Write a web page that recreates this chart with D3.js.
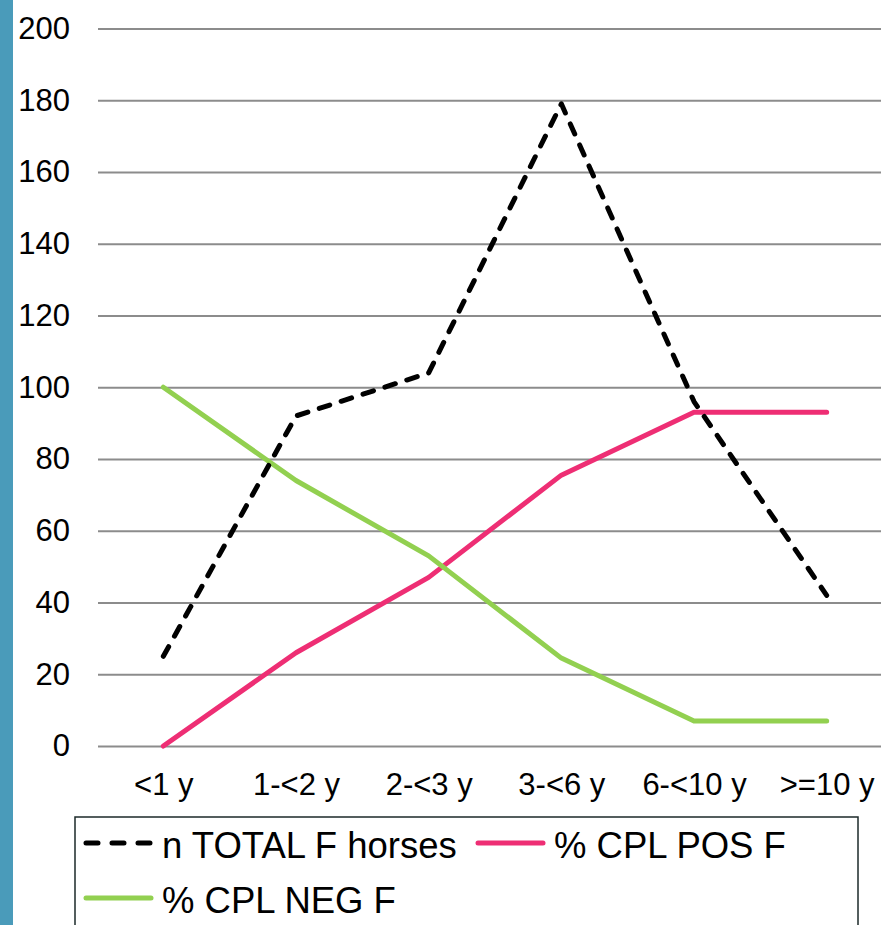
<!DOCTYPE html>
<html>
<head>
<meta charset="utf-8">
<script src="https://cdn.jsdelivr.net/npm/d3@7"></script>
<style>
  body { margin: 0; background: #fff; }
  text { font-family: "Liberation Sans", Arial, sans-serif; fill: #000; }
</style>
</head>
<body>
<svg width="881" height="925"></svg>
<script>
// chart values
var categories = ["<1 y", "1-<2 y", "2-<3 y", "3-<6 y", "6-<10 y", ">=10 y"];
var totalF = [25, 92, 104, 179, 96, 42];
var posF = [0, 26, 47, 75.5, 93, 93];
var negF = [100, 74, 53, 24.5, 7, 7];
var seriesNames = ["n TOTAL F horses", "% CPL POS F", "% CPL NEG F"];
var yTicks = [0, 20, 40, 60, 80, 100, 120, 140, 160, 180, 200];

var svg = d3.select("svg");

// blue strip on the left edge
svg.append("rect")
    .attr("x", 0).attr("y", 0)
    .attr("width", 13).attr("height", 925)
    .attr("fill", "#4a9bba");

var plotLeft = 97, plotRight = 893, plotTop = 28.5, plotBottom = 746;

var x = d3.scalePoint()
    .domain(categories)
    .range([plotLeft, plotRight])
    .padding(0.5);

var y = d3.scaleLinear()
    .domain([0, 200])
    .range([plotBottom, plotTop]);

// gridlines + y labels
var yAxis = svg.append("g")
    .attr("transform", "translate(" + (plotLeft + 1) + ",0)")
    .call(d3.axisLeft(y).tickValues(yTicks).tickSize(-(plotRight - plotLeft)).tickPadding(28));
yAxis.select(".domain").remove();
yAxis.selectAll(".tick line")
    .attr("stroke", "#8c8c8c")
    .attr("stroke-width", 2);
yAxis.selectAll(".tick text")
    .style("font-size", "31px")
    .attr("fill", "#000");

// x labels
var xAxis = svg.append("g")
    .attr("transform", "translate(0," + plotBottom + ")")
    .call(d3.axisBottom(x).tickSize(0).tickPadding(27));
xAxis.select(".domain").remove();
xAxis.selectAll(".tick text")
    .style("font-size", "31px")
    .attr("fill", "#000");

var line = d3.line()
    .x(function(d, i) { return x(categories[i]); })
    .y(function(d) { return y(d); });

var series = [
  {name: seriesNames[1], values: posF, color: "#ee2e74", dash: null},
  {name: seriesNames[2], values: negF, color: "#92d050", dash: null},
  {name: seriesNames[0], values: totalF, color: "#000", dash: "11,12"}
];

series.forEach(function(s) {
  svg.append("path")
      .datum(s.values)
      .attr("fill", "none")
      .attr("stroke", s.color)
      .attr("stroke-width", 5)
      .attr("stroke-linejoin", "round")
      .attr("stroke-linecap", "round")
      .attr("stroke-dasharray", s.dash)
      .attr("d", line);
});

// legend
svg.append("rect")
    .attr("x", 75).attr("y", 817)
    .attr("width", 783).attr("height", 140)
    .attr("fill", "#fff")
    .attr("stroke", "#1c2a2a")
    .attr("stroke-width", 1.5);

var legendItems = [
  {name: seriesNames[0], color: "#000", dash: "12,14", lx: 86, ly: 843},
  {name: seriesNames[1], color: "#ee2e74", dash: null, lx: 478, ly: 843},
  {name: seriesNames[2], color: "#92d050", dash: null, lx: 86, ly: 898}
];

legendItems.forEach(function(d) {
  svg.append("line")
      .attr("x1", d.lx).attr("x2", d.lx + 65)
      .attr("y1", d.ly).attr("y2", d.ly)
      .attr("stroke", d.color)
      .attr("stroke-width", 5)
      .attr("stroke-linecap", "round")
      .attr("stroke-dasharray", d.dash);
  svg.append("text")
      .attr("x", d.lx + 76)
      .attr("y", d.ly + 15)
      .style("font-size", "36.5px")
      .text(d.name);
});
</script>
</body>
</html>
